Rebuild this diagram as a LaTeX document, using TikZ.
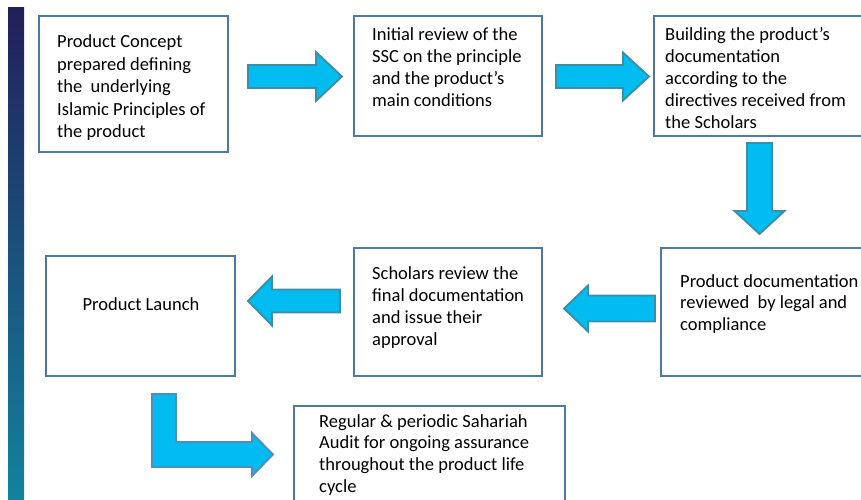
\documentclass[tikz,border=0pt]{standalone}
\usepackage{fontspec}
\setmainfont{Carlito}
\usetikzlibrary{calc}

\definecolor{boxline}{HTML}{4E79A7}
\definecolor{arrowfill}{HTML}{00BCF0}
\definecolor{arrowline}{HTML}{3C8DA6}
\definecolor{bentline}{HTML}{4F8CC4}
\definecolor{barTop}{HTML}{231F5B}
\definecolor{barBottom}{HTML}{12829F}

% horizontal block arrow pointing right: tail, tip, shaft half-width, head half-width, head length
\newcommand\blockright[5]{%
  \draw[blockarrow] ($(#1)+(0,-#3)$) -- ($(#2)+(-#5,-#3)$) -- ($(#2)+(-#5,-#4)$) -- (#2)
    -- ($(#2)+(-#5,#4)$) -- ($(#2)+(-#5,#3)$) -- ($(#1)+(0,#3)$) -- cycle;}
% horizontal block arrow pointing left
\newcommand\blockleft[5]{%
  \draw[blockarrow] ($(#1)+(0,-#3)$) -- ($(#2)+(#5,-#3)$) -- ($(#2)+(#5,-#4)$) -- (#2)
    -- ($(#2)+(#5,#4)$) -- ($(#2)+(#5,#3)$) -- ($(#1)+(0,#3)$) -- cycle;}
% vertical block arrow pointing down
\newcommand\blockdown[5]{%
  \draw[blockarrow] ($(#1)+(-#3,0)$) -- ($(#2)+(-#3,-#5)$) -- ($(#2)+(-#4,-#5)$) -- (#2)
    -- ($(#2)+(#4,-#5)$) -- ($(#2)+(#3,-#5)$) -- ($(#1)+(#3,0)$) -- cycle;}

\begin{document}
\begin{tikzpicture}[x=1pt,y=-1pt,
  stagebox/.style={draw=boxline, line width=2pt, fill=white, inner sep=0pt},
  stagetext/.style={anchor=base west, inner sep=0pt},
  blockarrow/.style={fill=arrowfill, draw=arrowline, line width=1.8pt, line join=miter}]
\useasboundingbox (0,0) rectangle (861,499);

% side bar
\shade[top color=barTop, bottom color=barBottom] (8,7) rectangle (24,499);

% process boxes
\node[stagebox, minimum width=189pt, minimum height=136pt] (b1) at (133.5,84) {};
\node[stagebox, minimum width=188pt, minimum height=120pt] (b2) at (448,76) {};
\node[stagebox, minimum width=246pt, minimum height=120pt] (b3) at (777,76) {};
\node[stagebox, minimum width=239pt, minimum height=128pt] (b4) at (780.5,312) {};
\node[stagebox, minimum width=188pt, minimum height=128pt] (b5) at (448,312) {};
\node[stagebox, minimum width=189pt, minimum height=120pt] (b6) at (140.5,316) {};
\node[stagebox, minimum width=271pt, minimum height=124pt] (b7) at (429.5,468) {};

% box texts
\node[stagetext] (t1) at (57,47.5) {\fontsize{18.5}{22.6}\selectfont\parbox[t]{200pt}{\raggedright
  Product Concept\\ prepared defining\\ the\ \ underlying\\ Islamic Principles of\\ the product}};
\node[stagetext] (t2) at (372,40) {\fontsize{18.5}{22}\selectfont\parbox[t]{200pt}{\raggedright
  Initial review of the\\ SSC on the principle\\ and the product’s\\ main conditions}};
\node[stagetext] (t3) at (665,40) {\fontsize{18.5}{22}\selectfont\parbox[t]{220pt}{\raggedright
  Building the product’s\\ documentation\\ according to the\\ directives received from\\ the Scholars}};
\node[stagetext] (t4) at (680,287) {\fontsize{18.5}{21.5}\selectfont\parbox[t]{220pt}{\raggedright
  Product documentation\\ reviewed\ \ by legal and\\ compliance}};
\node[stagetext] (t5) at (372,279) {\fontsize{18.5}{22.3}\selectfont\parbox[t]{200pt}{\raggedright
  Scholars review the\\ final documentation\\ and issue their\\ approval}};
\node[anchor=base, inner sep=0pt] (t6) at (141,310) {\fontsize{18.5}{22}\selectfont Product Launch};
\node[stagetext] (t7) at (319,427) {\fontsize{18.5}{21.7}\selectfont\parbox[t]{260pt}{\raggedright
  Regular \& periodic Sahariah\\ Audit for ongoing assurance\\ throughout the product life\\ cycle}};

% arrow end points
\coordinate (a1s) at (248,76.5);   \coordinate (a1e) at (342,76.5);
\coordinate (a2s) at (556,76.5);   \coordinate (a2e) at (649,76.5);
\coordinate (a3s) at (759.5,143);  \coordinate (a3e) at (759.5,234);
\coordinate (a4s) at (655,308.5);  \coordinate (a4e) at (564,308.5);
\coordinate (a5s) at (340,301);    \coordinate (a5e) at (248,301);
\coordinate (a6s) at (164,394);    \coordinate (a6e) at (273,454.5);

% block arrows between the stages
\blockright{a1s}{a1e}{11.5}{24.5}{26}
\blockright{a2s}{a2e}{11.5}{24}{26}
\blockdown{a3s}{a3e}{12.5}{25}{23}
\blockleft{a4s}{a4e}{13}{23}{24}
\blockleft{a5s}{a5e}{11.5}{24.5}{24}

% bent arrow from launch to audit
\draw[blockarrow, draw=bentline]
  ($(a6s)+(-12,0)$) -- ($(a6s)+(12,0)$) -- ($(a6s)+(12,48)$)
  -- ($(a6e)+(-21,-12.5)$) -- ($(a6e)+(-21,-21.5)$) -- (a6e)
  -- ($(a6e)+(-21,21.5)$) -- ($(a6e)+(-21,12.5)$)
  -- ($(a6s)+(-12,73)$) -- cycle;
\end{tikzpicture}
\end{document}
